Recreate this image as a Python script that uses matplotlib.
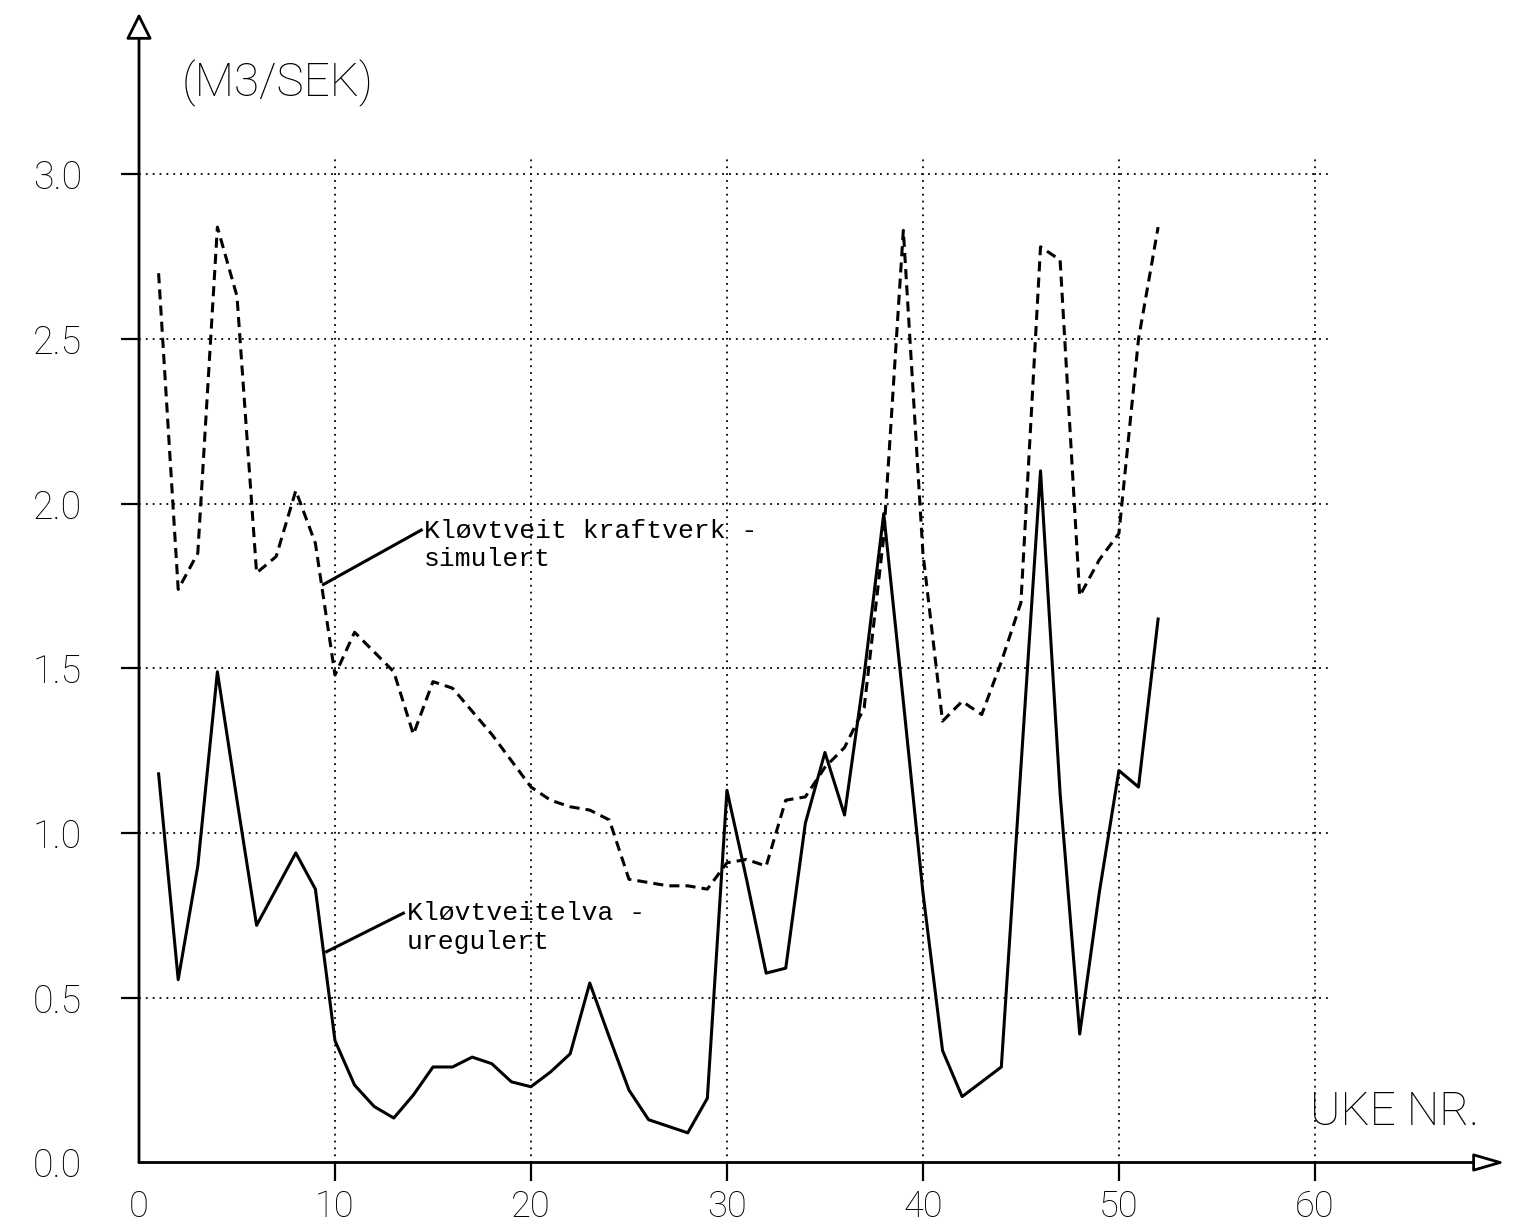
import matplotlib
matplotlib.use("Agg")
import matplotlib.pyplot as plt

# weekly values (m3/s)
weeks = [1, 2, 3, 4, 5, 6, 7, 8, 9, 10, 11, 12, 13, 14, 15, 16, 17, 18, 19, 20,
         21, 22, 23, 24, 25, 26, 27, 28, 29, 30, 31, 32, 33, 34, 35, 36, 37, 38, 39, 40,
         41, 42, 43, 44, 45, 46, 47, 48, 49, 50, 51, 52]

simulert = [2.70, 1.74, 1.85, 2.84, 2.63, 1.79, 1.84, 2.04, 1.88, 1.48,
            1.61, 1.55, 1.49, 1.30, 1.46, 1.44, 1.37, 1.30, 1.22, 1.14,
            1.10, 1.08, 1.07, 1.04, 0.86, 0.85, 0.84, 0.84, 0.83, 0.91,
            0.92, 0.90, 1.10, 1.11, 1.20, 1.26, 1.38, 1.90, 2.83, 1.85,
            1.34, 1.40, 1.36, 1.52, 1.70, 2.78, 2.74, 1.72, 1.83, 1.91,
            2.50, 2.84]

uregulert = [1.18, 0.555, 0.90, 1.49, 1.10, 0.72, 0.83, 0.94, 0.83, 0.37,
             0.235, 0.17, 0.135, 0.205, 0.29, 0.29, 0.32, 0.30, 0.245, 0.23,
             0.275, 0.33, 0.545, 0.38, 0.22, 0.13, 0.11, 0.09, 0.195, 1.13,
             0.86, 0.575, 0.59, 1.03, 1.245, 1.055, 1.48, 1.97, 1.40, 0.82,
             0.34, 0.20, 0.245, 0.29, 1.20, 2.10, 1.12, 0.39, 0.82, 1.19,
             1.14, 1.65]

xticks = [0, 10, 20, 30, 40, 50, 60]
yticks = [0.0, 0.5, 1.0, 1.5, 2.0, 2.5, 3.0]
ytick_labels = ["0.0", "0.5", "1.0", "1.5", "2.0", "2.5", "3.0"]

plotter_font = ["Roboto", "DejaVu Sans"]
mono_font = ["Liberation Mono", "DejaVu Sans Mono"]

fig = plt.figure(figsize=(15.19, 12.29), dpi=100)
ax = fig.add_axes([139 / 1519, (1229 - 1162.5) / 1229, 1366 / 1519, 1149.5 / 1229])
xmax, ymax = 69.7, 3.49
ax.set_xlim(0, xmax)
ax.set_ylim(0, ymax)
for s in ax.spines.values():
    s.set_visible(False)

# dotted grid
dots = (0, (1, 2.8))
ax.hlines(yticks[1:], 0, 60.8, colors="black", linestyles=dots, lw=1.3)
ax.vlines(xticks[1:], 0, 3.06, colors="black", linestyles=dots, lw=1.3)

# axes with open arrow heads
ax.annotate("", xy=(xmax, 0), xytext=(0, 0), annotation_clip=False,
            arrowprops=dict(arrowstyle="-|>,head_length=1.9,head_width=0.55",
                            fc="white", ec="black", lw=2, shrinkA=0, shrinkB=0,
                            mutation_scale=10))
ax.annotate("", xy=(0, ymax), xytext=(0, 0), annotation_clip=False,
            arrowprops=dict(arrowstyle="-|>,head_length=1.6,head_width=0.8",
                            fc="white", ec="black", lw=2, shrinkA=0, shrinkB=0,
                            mutation_scale=10))

ax.set_xticks(xticks)
ax.set_xticklabels([str(v) for v in xticks])
ax.set_yticks(yticks)
ax.set_yticklabels(ytick_labels)
ax.tick_params(axis="x", direction="out", length=13, width=1.6, pad=6, labelsize=26)
ax.tick_params(axis="y", direction="out", length=13, width=1.6, pad=28, labelsize=27)
ax.xaxis.get_major_ticks()[0].tick1line.set_visible(False)
ax.yaxis.get_major_ticks()[0].tick1line.set_visible(False)
for lab in ax.get_xticklabels() + ax.get_yticklabels():
    lab.set_family(plotter_font)
    lab.set_fontweight("light")

# the two series
ax.plot(weeks, simulert, color="black", lw=2.2, linestyle=(0, (3.3, 2.0)))
ax.plot(weeks, uregulert, color="black", lw=2.2)

# labels with leader lines
ax.plot([9.41, 14.4], [1.755, 1.92], color="black", lw=2.2)
ax.text(14.55, 1.875, "Kløvtveit kraftverk -\nsimulert", family=mono_font,
        fontsize=19, ha="left", va="center", linespacing=1.25)
ax.plot([9.57, 13.49], [0.64, 0.757], color="black", lw=2.2)
ax.text(13.66, 0.713, "Kløvtveitelva -\nuregulert", family=mono_font,
        fontsize=19, ha="left", va="center", linespacing=1.25)

fig.text(182 / 1519, 1 - 83 / 1229, "(M3/SEK)", family=plotter_font,
         fontweight="light", fontsize=33, ha="left", va="center")
fig.text(1310 / 1519, 1 - 1112 / 1229, "UKE NR.", family=plotter_font,
         fontweight="light", fontsize=33, ha="left", va="center")

fig.savefig("out.png", dpi=100)
